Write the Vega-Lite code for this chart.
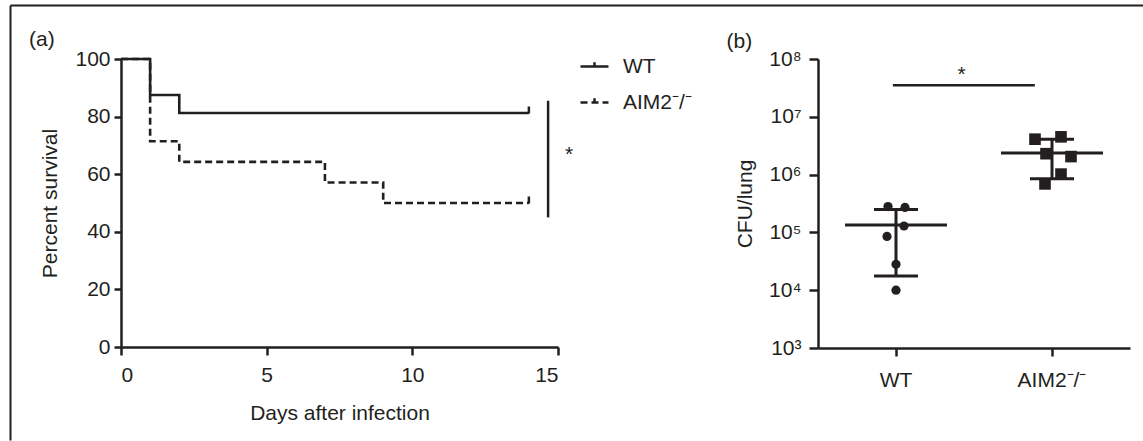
{
  "$schema": "https://vega.github.io/schema/vega-lite/v6.json",
  "padding": {"left": 7, "top": 5, "right": 0, "bottom": 0},
  "background": "white",
  "bounds": "flush",
  "spacing": 260,
  "resolve": {"scale": {"strokeDash": "independent", "shape": "independent", "size": "independent"}},
  "config": {
    "font": "Liberation Sans",
    "view": {"stroke": null},
    "axis": {
      "domainColor": "#231f20", "tickColor": "#231f20", "labelColor": "#231f20", "titleColor": "#231f20",
      "labelFontSize": 21, "titleFontSize": 21, "titleFontWeight": "normal", "grid": false,
      "domainWidth": 2.5, "tickWidth": 2.5, "labelFont": "Liberation Sans", "titleFont": "Liberation Sans"
    },
    "title": {"fontSize": 21, "fontWeight": "normal", "color": "#231f20", "anchor": "start", "font": "Liberation Sans"},
    "legend": {"labelFont": "Liberation Sans"}
  },
  "datasets": {
    "survival": [
      {"group": "WT", "day": 0, "percent": 100},
      {"group": "WT", "day": 1, "percent": 87.5},
      {"group": "WT", "day": 2, "percent": 81.25},
      {"group": "WT", "day": 14, "percent": 81.25},
      {"group": "AIM2-/-", "day": 0, "percent": 100},
      {"group": "AIM2-/-", "day": 1, "percent": 71.43},
      {"group": "AIM2-/-", "day": 2, "percent": 64.29},
      {"group": "AIM2-/-", "day": 7, "percent": 57.14},
      {"group": "AIM2-/-", "day": 9, "percent": 50},
      {"group": "AIM2-/-", "day": 14, "percent": 50}
    ],
    "censor": [
      {"group": "WT", "day": 14, "percent": 81.25},
      {"group": "AIM2-/-", "day": 14, "percent": 50}
    ],
    "sigA": [{"day": 14.66, "lo": 45, "hi": 85.5, "starDay": 15.38, "starY": 64.5, "label": "*"}],
    "cfu": [
      {"group": "WT", "cfu": 280000, "jitter": -0.8},
      {"group": "WT", "cfu": 270000, "jitter": 0.9},
      {"group": "WT", "cfu": 129000, "jitter": 0.8},
      {"group": "WT", "cfu": 85000, "jitter": -0.9},
      {"group": "WT", "cfu": 28000, "jitter": 0},
      {"group": "WT", "cfu": 10000, "jitter": 0},
      {"group": "AIM2-/-", "cfu": 4100000, "jitter": -1.7},
      {"group": "AIM2-/-", "cfu": 4500000, "jitter": 0.9},
      {"group": "AIM2-/-", "cfu": 2300000, "jitter": -0.6},
      {"group": "AIM2-/-", "cfu": 2050000, "jitter": 1.9},
      {"group": "AIM2-/-", "cfu": 1020000, "jitter": 0.9},
      {"group": "AIM2-/-", "cfu": 690000, "jitter": -0.7}
    ],
    "stats": [
      {"group": "WT", "median": 134000, "lo": 17600, "hi": 250000},
      {"group": "AIM2-/-", "median": 2370000, "lo": 850000, "hi": 4100000}
    ],
    "sigB": [{"g1": "WT", "g2": "AIM2-/-", "bar": 35000000, "star": 42000000, "label": "*"}]
  },
  "hconcat": [
    {
      "width": 437,
      "height": 288,
      "title": {"text": "(a)", "offset": 0, "frame": "group", "dx": -92, "dy": 45},
      "layer": [
        {
          "layer": [
            {
              "data": {"name": "survival"},
              "transform": [{"filter": "datum.group == 'AIM2-/-'"}],
              "mark": {"type": "line", "interpolate": "step-after", "strokeWidth": 2.6, "color": "#231f20"},
              "encoding": {
                "x": {"field": "day", "type": "quantitative", "scale": {"domain": [0, 15], "nice": false},
                      "axis": {"values": [0, 5, 10, 15], "tickSize": 8, "labelPadding": 9, "title": "Days after infection", "titlePadding": 17}},
                "y": {"field": "percent", "type": "quantitative", "scale": {"domain": [0, 100], "nice": false},
                      "axis": {"values": [0, 20, 40, 60, 80, 100], "tickSize": 7, "labelPadding": 4, "title": "Percent survival", "titlePadding": 14}},
                "strokeDash": {"field": "group", "type": "nominal",
                  "scale": {"domain": ["WT", "AIM2-/-"], "range": [[1, 0], [7, 4]]},
                  "legend": {"orient": "none", "legendX": 458, "legendY": -8, "title": null, "padding": 0,
                    "symbolType": "M-1,0H1M0,0V-0.3", "symbolSize": 784, "symbolStrokeWidth": 2.5,
                    "symbolStrokeColor": "#231f20", "symbolFillColor": "transparent",
                    "labelFontSize": 21, "labelColor": "#231f20", "labelOffset": 13, "rowPadding": 10,
                    "labelExpr": "datum.label == 'AIM2-/-' ? 'AIM2⁻/⁻' : datum.label"}}
              }
            },
            {
              "data": {"name": "survival"},
              "transform": [{"filter": "datum.group == 'WT'"}],
              "mark": {"type": "line", "interpolate": "step-after", "strokeWidth": 2.6, "color": "#231f20"},
              "encoding": {
                "x": {"field": "day", "type": "quantitative"},
                "y": {"field": "percent", "type": "quantitative"},
                "strokeDash": {"field": "group", "type": "nominal"}
              }
            },
            {
              "data": {"name": "censor"},
              "mark": {"type": "tick", "orient": "vertical", "size": 7, "thickness": 2.5, "yOffset": -3, "color": "#231f20", "opacity": 1},
              "encoding": {
                "x": {"field": "day", "type": "quantitative"},
                "y": {"field": "percent", "type": "quantitative"}
              }
            },
            {
              "data": {"name": "sigA"},
              "mark": {"type": "rule", "strokeWidth": 2.5, "color": "#231f20"},
              "encoding": {
                "x": {"field": "day", "type": "quantitative"},
                "y": {"field": "lo", "type": "quantitative"},
                "y2": {"field": "hi"}
              }
            },
            {
              "data": {"name": "sigA"},
              "mark": {"type": "text", "fontSize": 21, "color": "#231f20", "baseline": "alphabetic", "align": "center"},
              "encoding": {
                "x": {"field": "starDay", "type": "quantitative"},
                "y": {"field": "starY", "type": "quantitative"},
                "text": {"field": "label"}
              }
            }
          ]
        },
        {
          "data": {"values": [{"u": 0, "v": 0}]},
          "mark": {"type": "point", "opacity": 0},
          "encoding": {
            "x": {"field": "u", "type": "quantitative", "scale": {"domain": [0, 1], "range": [-111, 1024]},
                  "axis": {"orient": "top", "offset": 54, "labels": false, "ticks": false, "title": null, "domainWidth": 2}},
            "y": {"field": "v", "type": "quantitative", "scale": {"domain": [0, 1], "range": [381, -54]},
                  "axis": {"orient": "left", "offset": 111, "labels": false, "ticks": false, "title": null, "domainWidth": 2}}
          }
        }
      ],
      "resolve": {"scale": {"x": "independent", "y": "independent"}, "axis": {"x": "independent", "y": "independent"}}
    },
    {
      "width": 312,
      "height": 289,
      "title": {"text": "(b)", "offset": 8, "frame": "bounds", "dx": -8, "dy": 12},
      "layer": [
        {
          "data": {"name": "stats"},
          "mark": {"type": "rule", "strokeWidth": 3, "color": "#231f20", "opacity": 1},
          "encoding": {
            "x": {"field": "group", "type": "nominal",
                  "scale": {"type": "band", "domain": ["WT", "AIM2-/-"], "paddingInner": 0, "paddingOuter": 0},
                  "axis": {"labelAngle": 0, "tickSize": 8, "labelPadding": 13, "title": null,
                           "labelExpr": "datum.label == 'AIM2-/-' ? 'AIM2⁻/⁻' : datum.label"}},
            "y": {"field": "lo", "type": "quantitative",
                  "scale": {"type": "log", "domain": [1000, 100000000]},
                  "axis": {"values": [1000, 10000, 100000, 1000000, 10000000, 100000000], "tickSize": 9, "labelPadding": 8,
                           "title": "CFU/lung", "titlePadding": 13,
                           "labelExpr": "'10' + ['⁰','¹','²','³','⁴','⁵','⁶','⁷','⁸'][round(log(datum.value)/LN10)]"}},
            "y2": {"field": "hi"}
          }
        },
        {
          "data": {"name": "stats"},
          "mark": {"type": "tick", "size": 102, "thickness": 3, "color": "#231f20", "opacity": 1},
          "encoding": {
            "x": {"field": "group", "type": "nominal"},
            "y": {"field": "median", "type": "quantitative"}
          }
        },
        {
          "data": {"name": "stats"},
          "mark": {"type": "tick", "size": 44, "thickness": 3, "color": "#231f20", "opacity": 1},
          "encoding": {
            "x": {"field": "group", "type": "nominal"},
            "y": {"field": "lo", "type": "quantitative"}
          }
        },
        {
          "data": {"name": "stats"},
          "mark": {"type": "tick", "size": 44, "thickness": 3, "color": "#231f20", "opacity": 1},
          "encoding": {
            "x": {"field": "group", "type": "nominal"},
            "y": {"field": "hi", "type": "quantitative"}
          }
        },
        {
          "data": {"name": "cfu"},
          "mark": {"type": "point", "filled": true, "opacity": 1, "color": "#231f20"},
          "encoding": {
            "x": {"field": "group", "type": "nominal"},
            "xOffset": {"field": "jitter", "type": "quantitative", "scale": {"domain": [-2, 2], "range": [58, 98]}},
            "y": {"field": "cfu", "type": "quantitative"},
            "shape": {"field": "group", "type": "nominal", "scale": {"domain": ["WT", "AIM2-/-"], "range": ["circle", "square"]}, "legend": null},
            "size": {"field": "group", "type": "nominal", "scale": {"domain": ["WT", "AIM2-/-"], "range": [85, 135]}, "legend": null}
          }
        },
        {
          "data": {"name": "sigB"},
          "mark": {"type": "rule", "strokeWidth": 2.5, "color": "#231f20"},
          "encoding": {
            "x": {"field": "g1", "type": "nominal", "bandPosition": 0.48},
            "x2": {"field": "g2", "bandPosition": 0.39},
            "y": {"field": "bar", "type": "quantitative"}
          }
        },
        {
          "data": {"name": "sigB"},
          "mark": {"type": "text", "fontSize": 21, "color": "#231f20", "baseline": "alphabetic", "align": "center"},
          "encoding": {
            "x": {"field": "g1", "type": "nominal", "bandPosition": 0.92},
            "y": {"field": "star", "type": "quantitative"},
            "text": {"field": "label"}
          }
        }
      ]
    }
  ]
}
